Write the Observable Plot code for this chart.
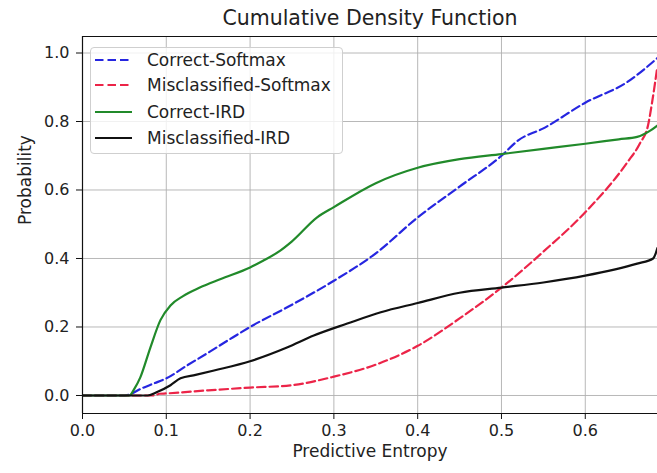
<!DOCTYPE html>
<html>
<head>
<meta charset="utf-8">
<script src="https://cdn.jsdelivr.net/npm/d3@7"></script>
<script src="https://cdn.jsdelivr.net/npm/@observablehq/plot@0.6"></script>
<style>
  body { margin: 0; background: #fff; font-family: "DejaVu Sans", sans-serif; }
  #wrap { position: relative; width: 657px; height: 473px; overflow: hidden; }
  #title { position: absolute; left: 82px; width: 576px; top: 0; height: 34px; line-height: 36px; text-align: center; font-size: 20.5px; color: #222; }
  #chart { position: absolute; left: 0; top: 34px; }
  #legend { position: absolute; left: 90px; top: 47px; width: 251px; height: 105px; border: 1px solid #cfcfcf; border-radius: 4px; background: rgba(255,255,255,0.8); }
  .row { position: absolute; left: 0; height: 26px; line-height: 26px; font-size: 17px; color: #222; white-space: nowrap; }
  .row svg { position: absolute; left: 4px; top: 0; }
  .row span { position: absolute; left: 56px; }
</style>
</head>
<body>
<div id="wrap">
  <div id="title">Cumulative Density Function</div>
  <div id="chart"></div>
  <div id="legend"></div>
</div>
<script>
const titleText = "Cumulative Density Function";
const xLabel = "Predictive Entropy";
const yLabel = "Probability";
const xTicks = [0, 0.1, 0.2, 0.3, 0.4, 0.5, 0.6];
const yTicks = [0, 0.2, 0.4, 0.6, 0.8, 1.0];

const seriesNames = ["Correct-Softmax", "Misclassified-Softmax", "Correct-IRD", "Misclassified-IRD"];
const seriesColors = ["#2626e0", "#ec2448", "#218a2a", "#111111"];
const seriesDashed = [true, true, false, false];

const correctSoftmaxX = [0, 0.05, 0.056, 0.07, 0.085, 0.1, 0.125, 0.15, 0.175, 0.2, 0.25, 0.3, 0.35, 0.4, 0.45, 0.5, 0.52, 0.55, 0.6, 0.65, 0.686];
const correctSoftmaxY = [0, 0, 0.003, 0.02, 0.035, 0.05, 0.088, 0.125, 0.163, 0.2, 0.265, 0.335, 0.415, 0.52, 0.61, 0.70, 0.745, 0.78, 0.855, 0.915, 0.985];

const misSoftmaxX = [0, 0.085, 0.092, 0.1, 0.15, 0.2, 0.25, 0.3, 0.35, 0.4, 0.45, 0.5, 0.55, 0.6, 0.65, 0.665, 0.675, 0.68, 0.686];
const misSoftmaxY = [0, 0, 0.005, 0.006, 0.015, 0.023, 0.03, 0.055, 0.09, 0.145, 0.225, 0.315, 0.42, 0.535, 0.68, 0.735, 0.79, 0.86, 0.96];

const correctIrdX = [0, 0.056, 0.062, 0.069, 0.081, 0.093, 0.105, 0.12, 0.14, 0.165, 0.2, 0.216, 0.236, 0.25, 0.28, 0.3, 0.35, 0.4, 0.45, 0.5, 0.55, 0.6, 0.64, 0.662, 0.678, 0.686];
const correctIrdY = [0, 0, 0.02, 0.053, 0.14, 0.22, 0.263, 0.29, 0.315, 0.34, 0.374, 0.394, 0.423, 0.45, 0.52, 0.55, 0.62, 0.665, 0.69, 0.705, 0.72, 0.735, 0.748, 0.755, 0.774, 0.788];

const misIrdX = [0, 0.078, 0.089, 0.105, 0.117, 0.135, 0.157, 0.2, 0.244, 0.276, 0.316, 0.356, 0.4, 0.45, 0.5, 0.55, 0.6, 0.662, 0.681, 0.686];
const misIrdY = [0, 0, 0.01, 0.03, 0.05, 0.06, 0.073, 0.10, 0.14, 0.175, 0.21, 0.243, 0.27, 0.30, 0.315, 0.33, 0.35, 0.385, 0.40, 0.43];

const seriesX = [correctSoftmaxX, misSoftmaxX, correctIrdX, misIrdX];
const seriesY = [correctSoftmaxY, misSoftmaxY, correctIrdY, misIrdY];

const xDomain = [0, 0.6862];
const yDomain = [-0.0526, 1.0482];

document.getElementById("title").textContent = titleText;

const lineMarks = seriesNames.map((name, i) => {
  const data = seriesX[i].map((x, j) => ({x, y: seriesY[i][j]}));
  return Plot.line(data, {
    x: "x", y: "y", curve: "monotone-x",
    stroke: seriesColors[i], strokeWidth: 2.2,
    strokeDasharray: seriesDashed[i] ? "8.5,4" : null,
    clip: true
  });
});

const chart = Plot.plot({
  width: 657,
  height: 439,
  marginLeft: 82,
  marginRight: 0,
  marginTop: 2,
  marginBottom: 60,
  style: { fontFamily: "DejaVu Sans, sans-serif", background: "white", color: "#222", overflow: "visible" },
  x: { domain: xDomain, label: null },
  y: { domain: yDomain, label: null },
  marks: [
    Plot.gridX(xTicks, { stroke: "#b0b0b0", strokeOpacity: 1, strokeWidth: 0.9 }),
    Plot.gridY(yTicks, { stroke: "#b0b0b0", strokeOpacity: 1, strokeWidth: 0.9 }),
    ...lineMarks,
    Plot.ruleX([xDomain[0]], { stroke: "#111", strokeWidth: 1.2 }),
    Plot.ruleY([yDomain[0]], { stroke: "#111", strokeWidth: 1.2 }),
    Plot.ruleY([yDomain[1]], { stroke: "#111", strokeWidth: 1.2 }),
    Plot.axisX(xTicks, { tickFormat: d3.format(".1f"), tickSize: 6, tickPadding: 5, fontSize: 16, label: null, stroke: "#111" }),
    Plot.axisY(yTicks, { tickFormat: d3.format(".1f"), tickSize: 6, tickPadding: 7, fontSize: 16, label: null, stroke: "#111" }),
    Plot.text([xLabel], { text: d => d, frameAnchor: "bottom", dy: 43, fontSize: 17, fill: "#222" }),
    Plot.text([yLabel], { text: d => d, frameAnchor: "left", dx: -57, rotate: -90, fontSize: 17, fill: "#222" })
  ]
});
document.getElementById("chart").appendChild(chart);

const legend = document.getElementById("legend");
const rowCenters = [12.3, 37.3, 63.5, 89.5];
seriesNames.forEach((name, i) => {
  const row = document.createElement("div");
  row.className = "row";
  row.style.top = (rowCenters[i] - 13) + "px";
  const dash = seriesDashed[i] ? 'stroke-dasharray="8.5,4"' : "";
  row.innerHTML = `<svg width="40" height="26"><line x1="0" x2="37" y1="13" y2="13" stroke="${seriesColors[i]}" stroke-width="2.2" ${dash}/></svg><span></span>`;
  row.querySelector("span").textContent = name;
  legend.appendChild(row);
});
</script>
</body>
</html>
